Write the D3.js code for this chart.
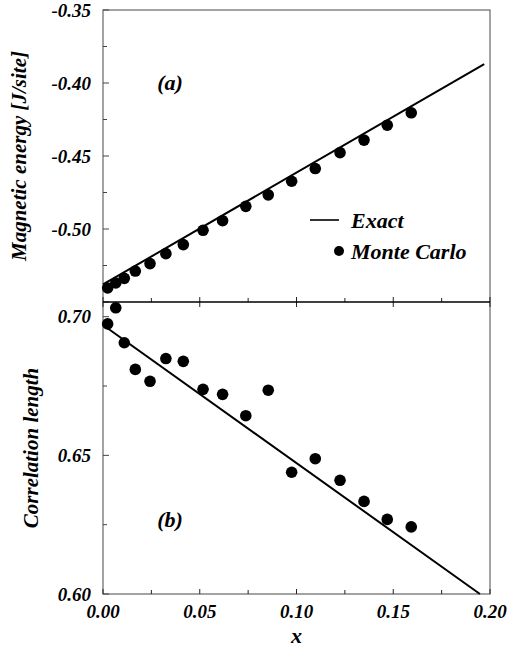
<!DOCTYPE html>
<html>
<head>
<meta charset="utf-8">
<script src="https://cdn.jsdelivr.net/npm/d3@7"></script>
<style>
  body { margin: 0; background: #fff; }
</style>
</head>
<body>
<div id="chart"></div>
<script>
// Monte Carlo sample positions (x)
const xs = [0.0024, 0.0066, 0.0110, 0.0167, 0.0243, 0.0325, 0.0415, 0.0517, 0.0618, 0.0738,
            0.0854, 0.0975, 0.1097, 0.1225, 0.1349, 0.1469, 0.1593];
// panel (a) magnetic energy, Monte Carlo
const energyMC = [-0.5404, -0.5370, -0.5338, -0.5288, -0.5237, -0.5169, -0.5107, -0.5009, -0.4943, -0.4845,
                  -0.4766, -0.4673, -0.4586, -0.4477, -0.4391, -0.4289, -0.4204];
// panel (b) correlation length, Monte Carlo
const corrMC = [0.6974, 0.7032, 0.6906, 0.6810, 0.6767, 0.6849, 0.6839, 0.6738, 0.6720, 0.6643,
                0.6735, 0.6439, 0.6488, 0.6410, 0.6334, 0.6269, 0.6242];
// exact results (straight lines, end points)
const exactX = [0.0, 0.197];
const exactEnergy = [-0.538, -0.387];
const exactCorrX = [0.0, 0.1948];
const exactCorr = [0.697, 0.600];

const xTicks = [0, 0.05, 0.10, 0.15, 0.20];
const energyTicks = [-0.35, -0.40, -0.45, -0.50];
const corrTicks = [0.60, 0.65, 0.70];

const W = 508, H = 650;
const pLeft = 103, pRight = 490, pTop = 10, pMid = 302, pBottom = 594;
const FONT = '"Liberation Serif", "Times New Roman", serif';

const svg = d3.select("#chart").append("svg")
  .attr("width", W).attr("height", H);

// all labels: bold italic serif
function label(sel, size) {
  return sel.style("font-family", FONT)
    .style("font-weight", "bold")
    .style("font-style", "italic")
    .style("font-size", size + "px")
    .attr("fill", "#000");
}

const x = d3.scaleLinear().domain([0, 0.2]).range([pLeft, pRight]);
const yA = d3.scaleLinear().domain([-0.55, -0.35]).range([pMid, pTop]);
const yB = d3.scaleLinear().domain([0.60, 0.7053]).range([pBottom, pMid]);

// frame
svg.append("rect")
  .attr("x", pLeft).attr("y", pTop)
  .attr("width", pRight - pLeft).attr("height", pBottom - pTop)
  .attr("fill", "none").attr("stroke", "#666").attr("stroke-width", 1.2);

// y ticks (inward) + labels
function yAxis(scale, lo, hi, labels) {
  const minor = d3.range(0, Math.round((hi - lo) / 0.025) + 1).map(i => lo + i * 0.025);
  svg.append("g").selectAll("line").data(minor).enter().append("line")
    .attr("x1", pLeft).attr("x2", (d, i) => pLeft + (i % 2 === 0 ? 6 : 4))
    .attr("y1", d => scale(d)).attr("y2", d => scale(d))
    .attr("stroke", "#444").attr("stroke-width", 1);
  label(svg.append("g").selectAll("text").data(labels).enter().append("text"), 19)
    .attr("x", 91).attr("y", d => scale(d))
    .attr("dy", "0.35em").attr("text-anchor", "end")
    .text(d => d.toFixed(2));
}
yAxis(yA, -0.55, -0.35, energyTicks);
yAxis(yB, 0.60, 0.70, corrTicks);

// x ticks on divider and bottom axis
const xMinor = d3.range(0, 9).map(i => i * 0.025);
[pMid, pBottom].forEach(yy => {
  svg.append("g").selectAll("line").data(xMinor).enter().append("line")
    .attr("x1", d => x(d)).attr("x2", d => x(d))
    .attr("y1", (d, i) => yy - (i % 2 === 0 ? 5 : 4))
    .attr("y2", (d, i) => yy + (yy === pMid && i % 2 === 0 ? 5 : 0))
    .attr("stroke", "#222").attr("stroke-width", 1);
});

// divider line
svg.append("line")
  .attr("x1", pLeft).attr("x2", pRight).attr("y1", pMid).attr("y2", pMid)
  .attr("stroke", "#000").attr("stroke-width", 1.6);

label(svg.append("g").selectAll("text").data(xTicks).enter().append("text"), 19)
  .attr("x", d => x(d)).attr("y", 618)
  .attr("text-anchor", "middle")
  .text(d => d.toFixed(2));

// axis titles
label(svg.append("text"), 21)
  .attr("transform", `translate(26, ${(pTop + pMid) / 2}) rotate(-90)`)
  .attr("text-anchor", "middle")
  .text("Magnetic energy [J/site]");

label(svg.append("text"), 21)
  .attr("transform", `translate(38, 448) rotate(-90)`)
  .attr("text-anchor", "middle")
  .text("Correlation length");

label(svg.append("text"), 22)
  .attr("x", x(0.1)).attr("y", 643)
  .attr("text-anchor", "middle")
  .text("x");

// exact lines
const line = (sx, sy) => d3.line().x(d => sx(d[0])).y(d => sy(d[1]));
svg.append("path")
  .datum(d3.zip(exactX, exactEnergy))
  .attr("d", line(x, yA))
  .attr("fill", "none").attr("stroke", "#000").attr("stroke-width", 2);
svg.append("path")
  .datum(d3.zip(exactCorrX, exactCorr))
  .attr("d", line(x, yB))
  .attr("fill", "none").attr("stroke", "#000").attr("stroke-width", 2);

// Monte Carlo points
svg.append("g").selectAll("circle").data(d3.zip(xs, energyMC)).enter().append("circle")
  .attr("cx", d => x(d[0])).attr("cy", d => yA(d[1])).attr("r", 5.8).attr("fill", "#000");
svg.append("g").selectAll("circle").data(d3.zip(xs, corrMC)).enter().append("circle")
  .attr("cx", d => x(d[0])).attr("cy", d => yB(d[1])).attr("r", 5.8).attr("fill", "#000");

// panel labels
label(svg.append("text"), 22).attr("x", 170).attr("y", 90)
  .attr("text-anchor", "middle").text("(a)");
label(svg.append("text"), 22).attr("x", 170).attr("y", 527)
  .attr("text-anchor", "middle").text("(b)");

// legend
const lg = svg.append("g");
lg.append("line").attr("x1", 310).attr("x2", 339).attr("y1", 220).attr("y2", 220)
  .attr("stroke", "#000").attr("stroke-width", 1.6);
label(lg.append("text"), 22).attr("x", 351).attr("y", 220).attr("dy", "0.35em")
  .text("Exact");
lg.append("circle").attr("cx", 339).attr("cy", 251).attr("r", 5).attr("fill", "#000");
label(lg.append("text"), 22).attr("x", 351).attr("y", 251).attr("dy", "0.35em")
  .text("Monte Carlo");
</script>
</body>
</html>
